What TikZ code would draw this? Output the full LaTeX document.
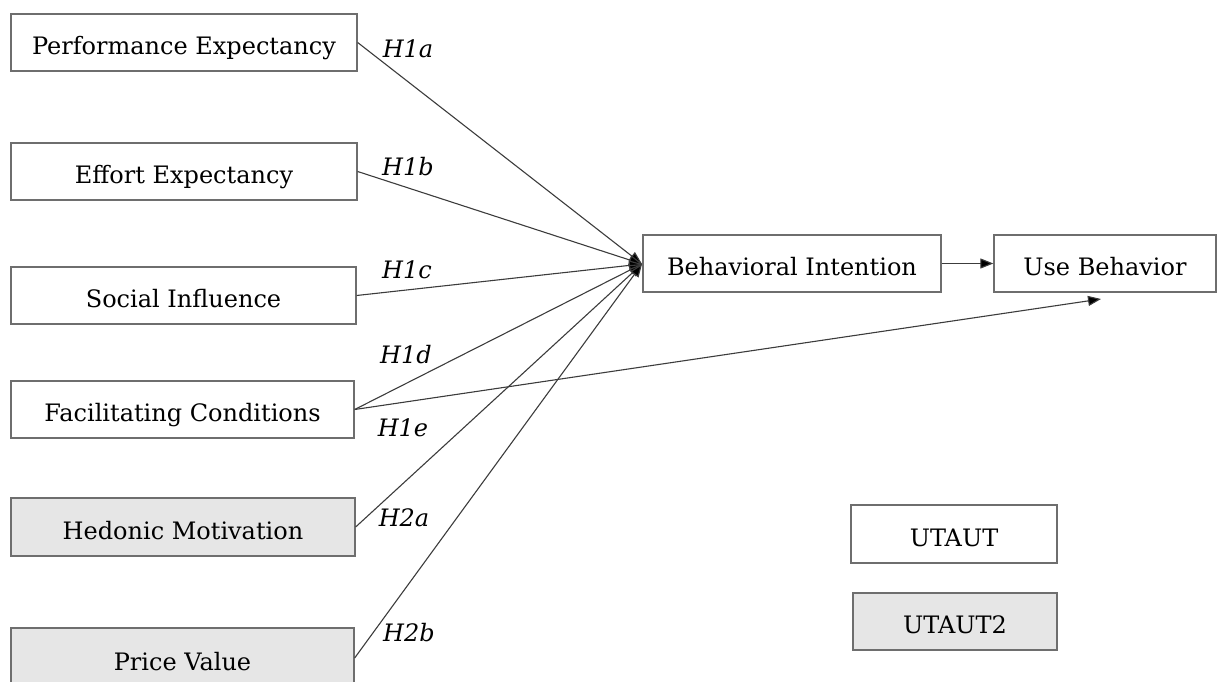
\documentclass[tikz,border=0pt]{standalone}
\usepackage{fontspec}
\setmainfont{DejaVu Serif}
\usetikzlibrary{arrows.meta}
\definecolor{boxline}{HTML}{6E6E6E}
\definecolor{boxfill}{HTML}{E6E6E6}
\definecolor{linkline}{HTML}{3C3C3C}
\tikzset{
  construct/.style={draw=boxline, line width=1.3pt, inner sep=0pt,
    minimum height=57pt, text height=24pt, text depth=0pt,
    font=\fontsize{24}{28}\selectfont},
  newconstruct/.style={construct, fill=boxfill},
  hyp/.style={font=\fontsize{24}{28}\selectfont\itshape, inner sep=0pt},
  link/.style={draw=linkline, line width=1.1pt,
    -{Triangle[length=13pt,width=10pt,fill=black]}},
}
\begin{document}
\begin{tikzpicture}[x=1pt,y=-1pt]
\useasboundingbox (0,0) rectangle (1217,682);
\clip (0,0) rectangle (1217,682);

% predictors (left column)
\node[construct, minimum width=346pt] (pe) at (184,42.5) {Performance Expectancy};
\node[construct, minimum width=346pt] (ee) at (184,171.5) {Effort Expectancy};
\node[construct, minimum width=345pt] (si) at (183.5,295.5) {Social Influence};
\node[construct, minimum width=343pt] (fc) at (182.5,409.5) {Facilitating Conditions};
\node[newconstruct, minimum width=344pt, minimum height=58pt] (hm) at (183,527) {Hedonic Motivation};
\node[newconstruct, minimum width=343pt, minimum height=60pt] (pv) at (182.5,658) {Price Value};

% outcomes
\node[construct, minimum width=298pt] (bi) at (792,263.5) {Behavioral Intention};
\node[construct, minimum width=222pt] (ub) at (1105,263.5) {Use Behavior};

% legend
\node[construct, minimum width=206pt, minimum height=58pt] (lgu) at (954,534) {UTAUT};
\node[newconstruct, minimum width=204pt] (lgu2) at (955,621.5) {UTAUT2};

% connector end points
\coordinate (bihit) at (642,264);
\coordinate (ubhit) at (1101,299);

% paths into behavioral intention
\draw[link] (pe.east) -- (bihit);
\draw[link] (ee.east) -- (bihit);
\draw[link] (si.east) -- (bihit);
\draw[link] (fc.east) -- (bihit);
\draw[link] (hm.east) -- (bihit);
\draw[link] (pv.east) -- (bihit);
\draw[link] (bi.east) -- (ub.west);
\draw[link] (fc.east) -- (ubhit);

% hypothesis labels
\node[hyp] (h1a) at (408,49) {H1a};
\node[hyp] (h1b) at (408,167) {H1b};
\node[hyp] (h1c) at (407,270) {H1c};
\node[hyp] (h1d) at (406,355) {H1d};
\node[hyp] (h1e) at (403,428) {H1e};
\node[hyp] (h2a) at (404,518) {H2a};
\node[hyp] (h2b) at (409,633) {H2b};
\end{tikzpicture}
\end{document}
